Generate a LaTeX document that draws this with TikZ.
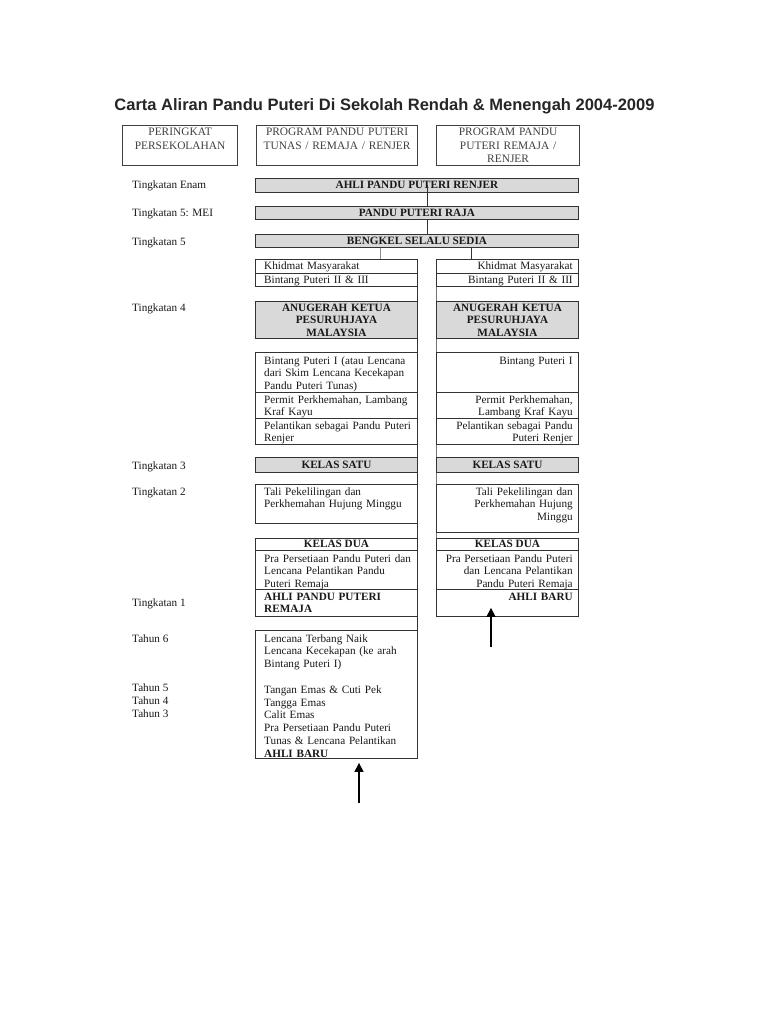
\documentclass[tikz,border=0pt]{standalone}
\usepackage{fontspec}
\setmainfont{Liberation Serif}
\newfontfamily\titlefont{Liberation Sans}
\usetikzlibrary{arrows.meta}
\newcommand\bodysz{\fontsize{11.2}{12.8}\selectfont}
\begin{document}
\begin{tikzpicture}[x=1pt,y=-1pt,
  box/.style={draw=black!80, line width=0.9pt, rectangle, inner sep=0pt, anchor=north west},
  greybox/.style={box, fill=black!15},
  hbox/.style={box, draw=black!75, line width=1.2pt},
  lbl/.style={font=\bodysz, inner sep=0pt, anchor=base west, text=black!90},
  lefttxt/.style={font=\bodysz, inner sep=0pt, text width=152pt, align=left, anchor=base west, text=black!90},
  righttxt/.style={font=\bodysz, inner sep=0pt, text width=136pt, align=right, anchor=base east, text=black!90},
  ctrtxt/.style={font=\bodysz\bfseries, inner sep=0pt, anchor=base, text=black!90},
  ctrmulti/.style={font=\bodysz\bfseries, inner sep=0pt, text width=140pt, align=center, anchor=base, text=black!90},
  headtxt/.style={font=\fontsize{11.4}{13.5}\selectfont, inner sep=0pt, text width=150pt, align=center, anchor=base, text=black!75},
  link/.style={draw=black!80, line width=0.9pt},
  arr/.style={draw=black, line width=1.3pt, -{Triangle[length=9pt,width=9pt]}}
]
\useasboundingbox[fill=white] (0,0) rectangle (768,1024);

% title
\node[font=\titlefont\bfseries\fontsize{16.5}{20}\selectfont, inner sep=0pt, anchor=base, text=black!85] (title) at (384.5,111)
  {Carta Aliran Pandu Puteri Di Sekolah Rendah \& Menengah 2004-2009};

% header boxes
\node[hbox, minimum width=115pt, minimum height=40pt] (h1) at (122,125) {};
\node[hbox, minimum width=161pt, minimum height=40pt] (h2) at (256,125) {};
\node[hbox, minimum width=143pt, minimum height=40pt] (h3) at (436,125) {};
\node[headtxt] (h1t) at ([yshift=-11pt]h1.north) {PERINGKAT\\PERSEKOLAHAN};
\node[headtxt] (h2t) at ([yshift=-11pt]h2.north) {PROGRAM PANDU PUTERI\\TUNAS / REMAJA / RENJER};
\node[headtxt] (h3t) at ([yshift=-11pt]h3.north) {PROGRAM PANDU\\PUTERI REMAJA /\\RENJER};

% left labels
\node[lbl] (l1) at (132,189) {Tingkatan Enam};
\node[lbl] (l2) at (132,217) {Tingkatan 5: MEI};
\node[lbl] (l3) at (132,245) {Tingkatan 5};
\node[lbl] (l4) at (132,311) {Tingkatan 4};
\node[lbl] (l5) at (132,469) {Tingkatan 3};
\node[lbl] (l6) at (132,495) {Tingkatan 2};
\node[lbl] (l7) at (132,606) {Tingkatan 1};
\node[lbl] (l8) at (132,642) {Tahun 6};
\node[lbl] (l9) at (132,691) {Tahun 5};
\node[lbl] (l10) at (132,704) {Tahun 4};
\node[lbl] (l11) at (132,717) {Tahun 3};

% full-width bars
\node[greybox, minimum width=323pt, minimum height=14pt] (b1) at (255,178) {};
\node[greybox, minimum width=323pt, minimum height=13pt] (b2) at (255,206) {};
\node[greybox, minimum width=323pt, minimum height=13pt] (b3) at (255,234) {};
\node[ctrtxt] (b1t) at ([yshift=-11pt]b1.north) {AHLI PANDU PUTERI RENJER};
\node[ctrtxt] (b2t) at ([yshift=-10.5pt]b2.north) {PANDU PUTERI RAJA};
\node[ctrtxt] (b3t) at ([yshift=-10.5pt]b3.north) {BENGKEL SELALU SEDIA};

% ---- left column ----
\node[box, minimum width=162pt, minimum height=14pt] (kL1) at (255,259) {};
\node[box, minimum width=162pt, minimum height=13pt] (kL2) at (255,273) {};
\node[greybox, minimum width=162pt, minimum height=37pt] (aL) at (255,301) {};
\node[box, minimum width=162pt, minimum height=40pt] (bL1) at (255,352) {};
\node[box, minimum width=162pt, minimum height=26pt] (bL2) at (255,392) {};
\node[box, minimum width=162pt, minimum height=26pt] (bL3) at (255,418) {};
\node[greybox, minimum width=162pt, minimum height=15pt] (sL) at (255,457) {};
\node[box, minimum width=162pt, minimum height=39pt] (tL) at (255,484) {};
\node[box, minimum width=162pt, minimum height=12pt] (dL1) at (255,538) {};
\node[box, minimum width=162pt, minimum height=39pt] (dL2) at (255,550) {};
\node[box, minimum width=162pt, minimum height=27pt] (dL3) at (255,589) {};
\node[box, minimum width=162pt, minimum height=128pt] (yL) at (255,630) {};

\node[lefttxt] (kL1t) at ([xshift=9pt,yshift=-10pt]kL1.north west) {Khidmat Masyarakat};
\node[lefttxt] (kL2t) at ([xshift=9pt,yshift=-10pt]kL2.north west) {Bintang Puteri II \& III};
\node[ctrmulti] (aLt) at ([yshift=-10pt]aL.north) {ANUGERAH KETUA\\PESURUHJAYA\\MALAYSIA};
\node[lefttxt] (bL1t) at ([xshift=9pt,yshift=-12pt]bL1.north west) {Bintang Puteri I (atau Lencana\\dari Skim Lencana Kecekapan\\Pandu Puteri Tunas)};
\node[lefttxt] (bL2t) at ([xshift=9pt,yshift=-11pt]bL2.north west) {Permit Perkhemahan, Lambang\\Kraf Kayu};
\node[lefttxt] (bL3t) at ([xshift=9pt,yshift=-11pt]bL3.north west) {Pelantikan sebagai Pandu Puteri\\Renjer};
\node[ctrtxt] (sLt) at ([yshift=-11.5pt]sL.north) {KELAS SATU};
\node[lefttxt] (tLt) at ([xshift=9pt,yshift=-11pt]tL.north west) {Tali Pekelilingan dan\\Perkhemahan Hujung Minggu};
\node[ctrtxt] (dL1t) at ([yshift=-9.5pt]dL1.north) {KELAS DUA};
\node[lefttxt] (dL2t) at ([xshift=9pt,yshift=-12pt]dL2.north west) {Pra Persetiaan Pandu Puteri dan\\Lencana Pelantikan Pandu\\Puteri Remaja};
\node[lefttxt, font=\bodysz\bfseries] (dL3t) at ([xshift=9pt,yshift=-11pt]dL3.north west) {AHLI PANDU PUTERI\\REMAJA};
\node[lefttxt] (yLt) at ([xshift=9pt,yshift=-12pt]yL.north west) {Lencana Terbang Naik\\Lencana Kecekapan (ke arah\\Bintang Puteri I)\\[12.8pt]Tangan Emas \& Cuti Pek\\Tangga Emas\\Calit Emas\\Pra Persetiaan Pandu Puteri\\Tunas \& Lencana Pelantikan\\\textbf{AHLI BARU}};

% ---- right column ----
\node[box, minimum width=142pt, minimum height=14pt] (kR1) at (436,259) {};
\node[box, minimum width=142pt, minimum height=13pt] (kR2) at (436,273) {};
\node[greybox, minimum width=142pt, minimum height=37pt] (aR) at (436,301) {};
\node[box, minimum width=142pt, minimum height=40pt] (bR1) at (436,352) {};
\node[box, minimum width=142pt, minimum height=26pt] (bR2) at (436,392) {};
\node[box, minimum width=142pt, minimum height=26pt] (bR3) at (436,418) {};
\node[greybox, minimum width=142pt, minimum height=15pt] (sR) at (436,457) {};
\node[box, minimum width=142pt, minimum height=48pt] (tR) at (436,484) {};
\node[box, minimum width=142pt, minimum height=12pt] (dR1) at (436,538) {};
\node[box, minimum width=142pt, minimum height=39pt] (dR2) at (436,550) {};
\node[box, minimum width=142pt, minimum height=27pt] (dR3) at (436,589) {};

\node[righttxt] (kR1t) at ([xshift=-6pt,yshift=-10pt]kR1.north east) {Khidmat Masyarakat};
\node[righttxt] (kR2t) at ([xshift=-6pt,yshift=-10pt]kR2.north east) {Bintang Puteri II \& III};
\node[ctrmulti] (aRt) at ([yshift=-10pt]aR.north) {ANUGERAH KETUA\\PESURUHJAYA\\MALAYSIA};
\node[righttxt] (bR1t) at ([xshift=-6pt,yshift=-12pt]bR1.north east) {Bintang Puteri I};
\node[righttxt] (bR2t) at ([xshift=-6pt,yshift=-11pt]bR2.north east) {Permit Perkhemahan,\\Lambang Kraf Kayu};
\node[righttxt] (bR3t) at ([xshift=-6pt,yshift=-11pt]bR3.north east) {Pelantikan sebagai Pandu\\Puteri Renjer};
\node[ctrtxt] (sRt) at ([yshift=-11.5pt]sR.north) {KELAS SATU};
\node[righttxt] (tRt) at ([xshift=-6pt,yshift=-11pt]tR.north east) {Tali Pekelilingan dan\\Perkhemahan Hujung\\Minggu};
\node[ctrtxt] (dR1t) at ([yshift=-9.5pt]dR1.north) {KELAS DUA};
\node[righttxt] (dR2t) at ([xshift=-6pt,yshift=-12pt]dR2.north east) {Pra Persetiaan Pandu Puteri\\dan Lencana Pelantikan\\Pandu Puteri Remaja};
\node[righttxt, font=\bodysz\bfseries] (dR3t) at ([xshift=-6pt,yshift=-11pt]dR3.north east) {AHLI BARU};

% ---- connectors ----
\draw[link] ([xshift=10.5pt]b1.center) -- ([xshift=10.5pt]b2.north);
\draw[link] ([xshift=10.5pt]b2.south) -- ([xshift=10.5pt]b3.north);
\draw[link, draw=black!45] ([xshift=44pt]kL1.north) -- ([xshift=44pt]kL1.north |- b3.south);
\draw[link] ([xshift=-36pt]kR1.north) -- ([xshift=-36pt]kR1.north |- b3.south);

\draw[link] (kL2.south east) -- (aL.north east);
\draw[link] (aL.south east) -- (bL1.north east);
\draw[link] (bL3.south east) -- (sL.north east);
\draw[link] (sL.south east) -- (tL.north east);
\draw[link] (tL.south east) -- (dL1.north east);
\draw[link] (dL3.south east) -- (yL.north east);

\draw[link, draw=black!55] (kR2.south west) -- (aR.north west);
\draw[link, draw=black!55] (aR.south west) -- (bR1.north west);
\draw[link, draw=black!55] (bR3.south west) -- (sR.north west);
\draw[link, draw=black!55] (sR.south west) -- (tR.north west);
\draw[link, draw=black!55] (tR.south west) -- (dR1.north west);

% arrows
\coordinate (arrR) at (491,647);
\coordinate (arrL) at (359,803);
\draw[arr, shorten >=-9pt] (arrR) -- (arrR |- dR3.south);
\draw[arr, shorten >=4pt] (arrL) -- (arrL |- yL.south);
\end{tikzpicture}
\end{document}
